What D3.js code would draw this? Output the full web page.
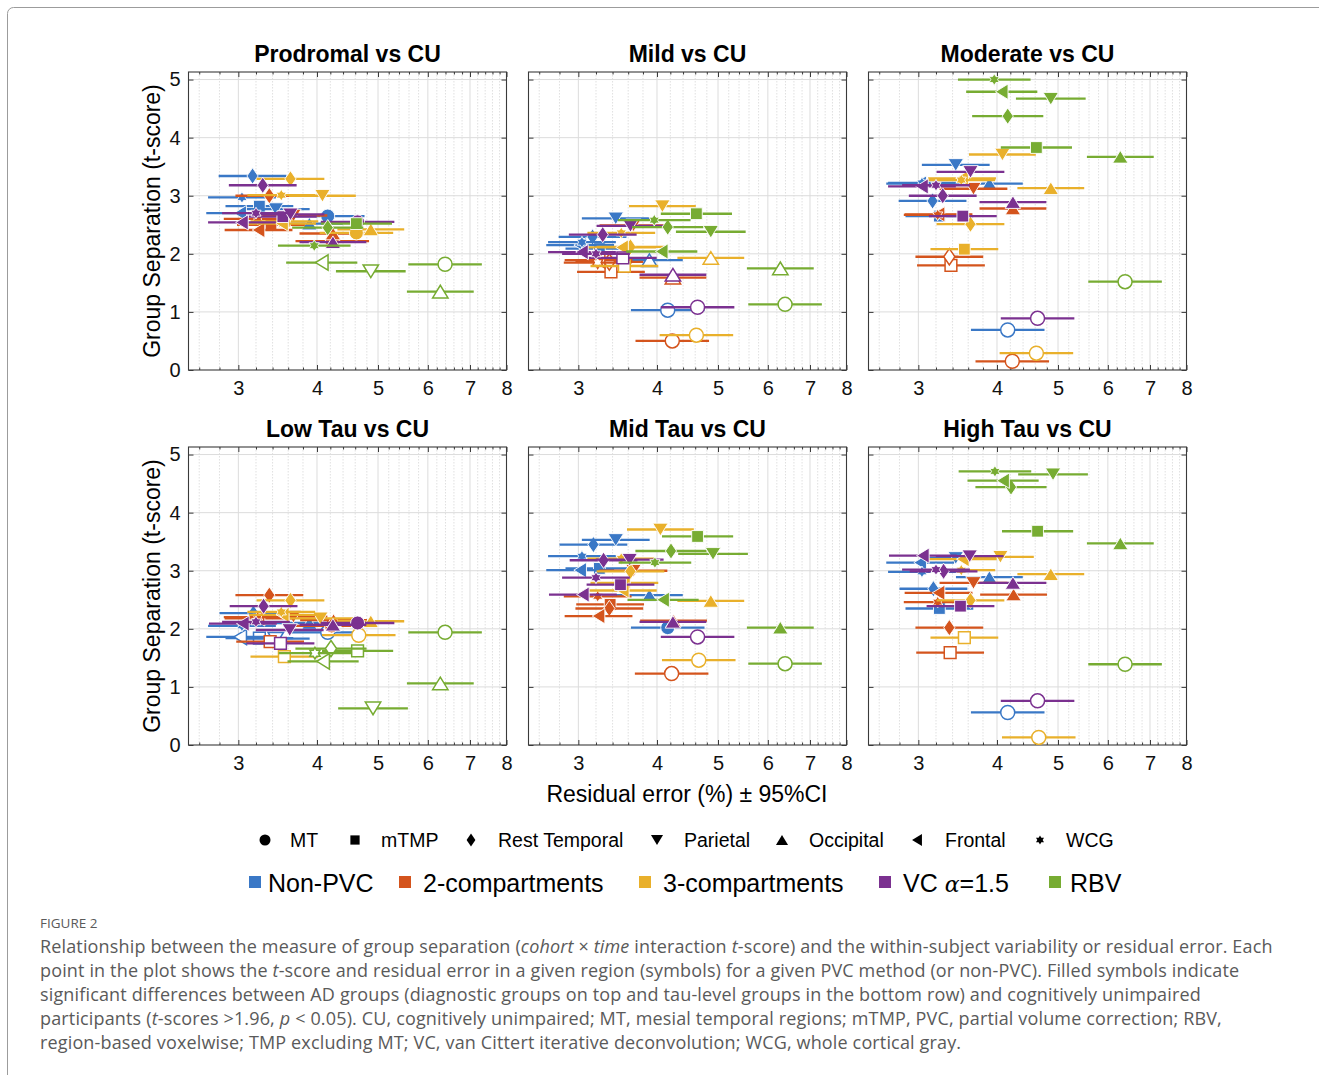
<!DOCTYPE html>
<meta charset="utf-8">
<style>
body { margin: 0; background: #fff; }
svg text { font-family: "Liberation Sans", Arial, sans-serif; fill: #000; }
.caption text { font-family: "Open Sans", Lato, sans-serif; fill: #5a5a5a; }
.axis path { display: none; }
.axis line { stroke: #3a3a3a; }
.axis text { font-size: 20px; fill: #111; }
</style>
<svg width="1319" height="1075"></svg>
<script src="https://d3js.org/d3.v7.min.js"></script>
<script>

// regions (symbols) and PVC methods (colours)
var regions = ["MT", "mTMP", "Rest Temporal", "Parietal", "Occipital", "Frontal", "WCG"];
var regionShapes = ["circle", "square", "diamond", "down", "up", "left", "hexagram"];
var methods = ["Non-PVC", "2-compartments", "3-compartments", "VC", "RBV"];
var methodColors = ["#3a78c6", "#d4541d", "#e9b02b", "#7b3190", "#77ac32"];
var xTicks = [3, 4, 5, 6, 7, 8];
var yTicks = [0, 1, 2, 3, 4, 5];

// residual error (%) per method (rows) x region (cols), diagnostic row of panels
var xDiag = [
  [4.16, 3.24, 3.16, 3.44, 3.89, 3.02, 3.04],
  [4.23, 3.38, 3.36, 3.67, 4.24, 3.23, 3.22],
  [4.62, 3.55, 3.63, 4.08, 4.87, 3.52, 3.51],
  [4.64, 3.53, 3.28, 3.63, 4.24, 3.04, 3.20],
  [6.39, 4.62, 4.16, 4.87, 6.28, 4.07, 3.96]
];
// residual error (%), tau-level row of panels
var xTau = [
  [4.16, 3.24, 3.17, 3.44, 3.89, 3.02, 3.04],
  [4.22, 3.37, 3.36, 3.67, 4.25, 3.23, 3.22],
  [4.66, 3.55, 3.63, 4.05, 4.87, 3.53, 3.51],
  [4.64, 3.50, 3.29, 3.62, 4.24, 3.05, 3.20],
  [6.39, 4.64, 4.21, 4.91, 6.28, 4.09, 3.97]
];
// 95% CI as a multiplicative half-width (lower = x / f, upper = x * f)
var ciFactor = [
  [1.144, 1.132, 1.132, 1.132, 1.130, 1.132, 1.132],
  [1.144, 1.132, 1.132, 1.132, 1.130, 1.132, 1.132],
  [1.144, 1.132, 1.132, 1.130, 1.130, 1.132, 1.132],
  [1.144, 1.132, 1.132, 1.132, 1.130, 1.132, 1.132],
  [1.144, 1.139, 1.139, 1.136, 1.130, 1.139, 1.142]
];

// t-scores per method (rows) x region (cols)
var tProdromal = [
  [2.65, 2.82, 3.34, 2.77, 2.52, 2.70, 2.97],
  [2.22, 2.50, 3.00, 2.66, 2.35, 2.41, 2.60],
  [2.36, 2.56, 3.29, 3.00, 2.42, 2.52, 3.01],
  [2.55, 2.64, 3.18, 2.68, 2.20, 2.54, 2.70],
  [1.82, 2.52, 2.45, 1.70, 1.35, 1.85, 2.14]
];
var tMild = [
  [1.03, 2.09, 2.29, 2.61, 1.89, 2.15, 2.20],
  [0.50, 1.69, 1.86, 2.49, 1.59, 1.89, 1.85],
  [0.60, 1.79, 2.12, 2.82, 1.93, 2.11, 2.36],
  [1.08, 1.93, 2.33, 2.48, 1.64, 2.03, 2.00],
  [1.13, 2.69, 2.46, 2.38, 1.75, 2.04, 2.58]
];
var tModerate = [
  [0.69, 2.65, 2.91, 3.53, 3.21, 3.21, 3.22],
  [0.15, 1.80, 1.95, 3.12, 2.78, 2.68, 2.67],
  [0.29, 2.08, 2.51, 3.71, 3.13, 3.30, 3.27],
  [0.89, 2.65, 3.00, 3.41, 2.89, 3.16, 3.18],
  [1.52, 3.83, 4.37, 4.67, 3.67, 4.79, 5.00]
];
var tLowTau = [
  [1.94, 1.84, 2.27, 1.83, 2.10, 1.86, 2.05],
  [2.05, 1.78, 2.58, 2.21, 2.15, 2.18, 2.20],
  [1.89, 1.52, 2.49, 2.18, 2.13, 2.24, 2.29],
  [2.10, 1.75, 2.39, 1.98, 2.07, 2.09, 2.12],
  [1.94, 1.62, 1.66, 0.63, 1.06, 1.44, 1.58]
];
var tMidTau = [
  [2.02, 3.04, 3.45, 3.53, 2.58, 3.01, 3.25],
  [1.23, 2.42, 2.35, 3.00, 2.14, 2.22, 2.56],
  [1.46, 2.79, 2.99, 3.71, 2.48, 2.66, 3.21],
  [1.86, 2.76, 3.18, 3.19, 2.12, 2.59, 2.88],
  [1.40, 3.59, 3.34, 3.29, 2.02, 2.50, 3.14]
];
var tHighTau = [
  [0.56, 2.35, 2.69, 3.22, 2.89, 3.14, 2.98],
  [-0.20, 1.59, 2.02, 2.79, 2.59, 2.62, 2.46],
  [0.13, 1.85, 2.49, 3.24, 2.94, 3.20, 3.01],
  [0.76, 2.39, 2.99, 3.25, 2.79, 3.26, 3.02],
  [1.39, 3.68, 4.44, 4.66, 3.47, 4.55, 4.71]
];

var tCrit = 1.96;

var panels = [
  {title: "Prodromal vs CU", t: tProdromal, x: xDiag, row: 0, col: 0},
  {title: "Mild vs CU",      t: tMild,      x: xDiag, row: 0, col: 1},
  {title: "Moderate vs CU",  t: tModerate,  x: xDiag, row: 0, col: 2},
  {title: "Low Tau vs CU",   t: tLowTau,    x: xTau,  row: 1, col: 0},
  {title: "Mid Tau vs CU",   t: tMidTau,    x: xTau,  row: 1, col: 1},
  {title: "High Tau vs CU",  t: tHighTau,   x: xTau,  row: 1, col: 2}
];

var svg = d3.select("svg");
var panelLeft = [188.5, 528.5, 868.5],
    panelTop = [72, 447],
    width = 318,
    height = 298;

var x = d3.scaleLog().domain([2.5, 8]).range([0, width]),
    y = d3.scaleLinear().domain([0, 5.13]).range([height, 0]);

var minorTicks = d3.range(26, 80, 2).map(function(d) { return d / 10; })
    .filter(function(d) { return xTicks.indexOf(d) < 0; });

// frame around the figure
svg.append("rect")
    .attr("x", 7.5).attr("y", 7.5)
    .attr("width", 1400).attr("height", 1200)
    .attr("rx", 6)
    .attr("fill", "none")
    .attr("stroke", "#9c9c9c");

function markerPath(shape, s) {
  var p = d3.path(), h = s / 2;
  if (shape == "circle") {
    p.arc(0, 0, h, 0, 2 * Math.PI);
  } else if (shape == "square") {
    var a = s * 0.42;
    p.rect(-a, -a, 2 * a, 2 * a);
  } else if (shape == "diamond") {
    var w = s * 0.4, v = s * 0.58;
    p.moveTo(0, -v); p.lineTo(w, 0); p.lineTo(0, v); p.lineTo(-w, 0);
  } else if (shape == "down" || shape == "up" || shape == "left") {
    var b = s * 0.55, c = s * 0.45;
    var pts = shape == "down" ? [[-b, -c], [b, -c], [0, c]]
            : shape == "up" ? [[-b, c], [b, c], [0, -c]]
            : [[c, -b], [c, b], [-c, 0]];
    p.moveTo(pts[0][0], pts[0][1]); p.lineTo(pts[1][0], pts[1][1]); p.lineTo(pts[2][0], pts[2][1]);
  } else if (shape == "hexagram") {
    var R = s * 0.42, r = R / Math.sqrt(3);
    for (var i = 0; i < 12; i++) {
      var ang = -Math.PI / 2 + i * Math.PI / 6, rr = i % 2 ? r : R;
      if (i == 0) p.moveTo(rr * Math.cos(ang), rr * Math.sin(ang));
      else p.lineTo(rr * Math.cos(ang), rr * Math.sin(ang));
    }
  }
  p.closePath();
  return p.toString();
}

panels.forEach(function(pn, i) {
  var g = svg.append("g")
      .attr("transform", "translate(" + panelLeft[pn.col] + "," + panelTop[pn.row] + ")");

  // grid
  g.selectAll(".minor").data(minorTicks).enter().append("line")
      .attr("x1", function(d) { return x(d); }).attr("x2", function(d) { return x(d); })
      .attr("y1", 0).attr("y2", height)
      .attr("stroke", "#d8d8d8").attr("stroke-width", 0.8).attr("stroke-dasharray", "1.5,1.5");
  g.selectAll(".vmajor").data(xTicks.slice(0, 5)).enter().append("line")
      .attr("x1", function(d) { return x(d); }).attr("x2", function(d) { return x(d); })
      .attr("y1", 0).attr("y2", height)
      .attr("stroke", "#dcdcdc");
  g.selectAll(".hmajor").data(yTicks.slice(1)).enter().append("line")
      .attr("x1", 0).attr("x2", width)
      .attr("y1", function(d) { return y(d); }).attr("y2", function(d) { return y(d); })
      .attr("stroke", "#dcdcdc");

  // axes
  g.append("g").attr("class", "axis")
      .attr("transform", "translate(0," + height + ")")
      .call(d3.axisBottom(x).tickValues(xTicks).tickFormat(d3.format("d")).tickSize(-5).tickPadding(11));
  g.append("g").attr("class", "axis")
      .call(d3.axisTop(x).tickValues(xTicks).tickFormat("").tickSize(-5));
  g.append("g").attr("class", "axis")
      .attr("transform", "translate(0," + height + ")")
      .call(d3.axisBottom(x).tickValues(minorTicks).tickFormat("").tickSize(-2.5));
  g.append("g").attr("class", "axis")
      .call(d3.axisTop(x).tickValues(minorTicks).tickFormat("").tickSize(-2.5));
  g.append("g").attr("class", "axis")
      .call(d3.axisLeft(y).tickValues(yTicks)
        .tickFormat(pn.col == 0 ? d3.format("d") : "").tickSize(-5).tickPadding(8));
  g.append("g").attr("class", "axis")
      .attr("transform", "translate(" + width + ",0)")
      .call(d3.axisRight(y).tickValues(yTicks).tickFormat("").tickSize(-5));
  g.selectAll(".axis").attr("font-size", null).attr("font-family", null);

  g.append("rect")
      .attr("width", width).attr("height", height)
      .attr("fill", "none").attr("stroke", "#3a3a3a").attr("stroke-width", 1.1);

  // title
  g.append("text")
      .attr("x", width / 2).attr("y", -10)
      .attr("text-anchor", "middle")
      .style("font-size", "23px").style("font-weight", "bold")
      .text(pn.title);

  if (pn.col == 0) {
    g.append("text")
      .attr("transform", "translate(-29," + (height / 2) + ") rotate(-90)")
      .attr("text-anchor", "middle")
      .style("font-size", "23px")
      .text("Group Separation (t-score)");
  }

  // data
  g.append("clipPath").attr("id", "clip" + i)
    .append("rect").attr("width", width).attr("height", height);
  var dg = g.append("g").attr("clip-path", "url(#clip" + i + ")");

  methods.forEach(function(m, mi) {
    regions.forEach(function(r, ri) {
      var xv = pn.x[mi][ri], tv = pn.t[mi][ri], f = ciFactor[mi][ri];
      var col = methodColors[mi], filled = tv > tCrit;
      dg.append("line")
          .attr("x1", x(xv / f)).attr("x2", x(xv * f))
          .attr("y1", y(tv)).attr("y2", y(tv))
          .attr("stroke", col).attr("stroke-width", 2.3);
      dg.append("path")
          .attr("d", markerPath(regionShapes[ri], 14))
          .attr("transform", "translate(" + x(xv) + "," + y(tv) + ")")
          .attr("fill", filled ? col : "#fff")
          .attr("stroke", filled ? "#fff" : col)
          .attr("stroke-width", filled ? 0.9 : 1.5);
    });
  });
});

// x axis label
svg.append("text")
    .attr("x", 687).attr("y", 802)
    .attr("text-anchor", "middle")
    .style("font-size", "23px")
    .text("Residual error (%) \u00b1 95%CI");

// legend: symbols
var symX = [265, 355, 471, 657, 782, 917, 1040];
var symLabelX = [290, 381, 498, 684, 809, 945, 1066];
regions.forEach(function(r, ri) {
  svg.append("path")
      .attr("d", markerPath(regionShapes[ri], 11))
      .attr("transform", "translate(" + symX[ri] + ",840)")
      .attr("fill", "#000");
  svg.append("text")
      .attr("x", symLabelX[ri]).attr("y", 847)
      .style("font-size", "19.5px")
      .text(r);
});

// legend: methods
var methX = [249, 399, 639, 879, 1049];
var methLabelX = [268, 423, 663, 903, 1070];
methods.forEach(function(m, mi) {
  svg.append("rect")
      .attr("x", methX[mi]).attr("y", 876)
      .attr("width", 12).attr("height", 12)
      .attr("fill", methodColors[mi]);
  var tx = svg.append("text")
      .attr("x", methLabelX[mi]).attr("y", 892)
      .style("font-size", "25px");
  if (m == "VC") {
    tx.append("tspan").text("VC ");
    tx.append("tspan").style("font-family", "'DejaVu Serif', serif").style("font-style", "italic").style("font-size", "22px").text("\u03b1");
    tx.append("tspan").text("=1.5");
  } else {
    tx.text(m);
  }
});

// caption
var cap = svg.append("g").attr("class", "caption");
cap.append("text")
    .attr("x", 40).attr("y", 928)
    .style("font-size", "13.5px")
    .text("FIGURE 2");

var captionLines = [
  [["Relationship between the measure of group separation ("], ["cohort", 1], [" \u00d7 "], ["time", 1], [" interaction "], ["t", 1], ["-score) and the within-subject variability or residual error. Each"]],
  [["point in the plot shows the "], ["t", 1], ["-score and residual error in a given region (symbols) for a given PVC method (or non-PVC). Filled symbols indicate"]],
  [["significant differences between AD groups (diagnostic groups on top and tau-level groups in the bottom row) and cognitively unimpaired"]],
  [["participants ("], ["t", 1], ["-scores >1.96, "], ["p", 1], [" < 0.05). CU, cognitively unimpaired; MT, mesial temporal regions; mTMP, PVC, partial volume correction; RBV,"]],
  [["region-based voxelwise; TMP excluding MT; VC, van Cittert iterative deconvolution; WCG, whole cortical gray."]]
];
captionLines.forEach(function(parts, li) {
  var tx = cap.append("text")
      .attr("x", 40).attr("y", 953 + li * 24)
      .style("font-size", "18px")
      .style("letter-spacing", "0.15px");
  parts.forEach(function(p) {
    tx.append("tspan").style("font-style", p[1] ? "italic" : "normal").text(p[0]);
  });
});

</script>
